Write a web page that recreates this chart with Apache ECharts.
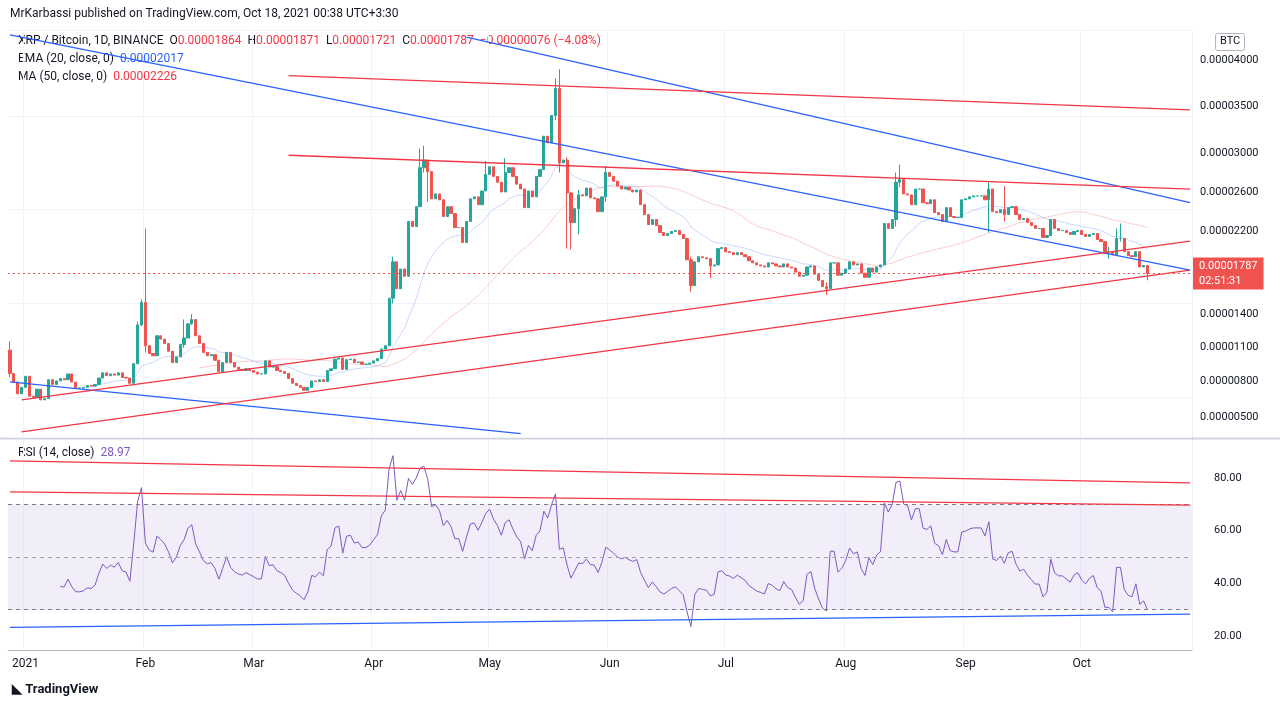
<!DOCTYPE html>
<html>
<head>
<meta charset="utf-8">
<script src="https://cdn.jsdelivr.net/npm/echarts@6/dist/echarts.min.js"></script>
<style>
html,body{margin:0;padding:0;background:#fff;}
#chart{width:1280px;height:709px;}
</style>
</head>
<body>
<div id="chart"></div>
<script>
// prices in units of 0.00000001 BTC, daily from 2020-12-28
var startDate = '2020-12-28';
var dayCount = 306;
var firstOpen = 1070;
var closes = [
 863,790,690,745,840,670,660,730,640,650,
 810,770,800,820,810,860,790,740,740,745,
 760,755,770,825,870,845,860,850,870,830,
 825,780,950,1300,1510,1110,1040,1020,1200,1170,
 1130,1060,960,1010,1120,1180,1310,1350,1200,1130,
 1050,1020,1030,980,880,960,1050,960,920,900,
 890,905,890,875,860,860,975,920,925,890,
 880,865,820,780,760,745,720,745,800,795,
 810,795,890,905,990,1000,900,985,990,960,
 965,945,945,955,975,995,1080,1110,1550,1900,
 1640,1830,1760,2300,2250,2450,2850,2930,2810,2530,
 2580,2520,2350,2450,2380,2240,2240,2090,2300,2530,
 2550,2470,2610,2780,2860,2760,2700,2600,2800,2850,
 2760,2680,2630,2440,2610,2550,2760,2830,3180,3110,
 3400,3690,2900,2930,2590,2290,2430,2570,2560,2640,
 2540,2530,2400,2550,2800,2760,2710,2660,2630,2650,
 2620,2600,2620,2470,2370,2270,2320,2260,2190,2160,
 2180,2200,2210,2170,2130,1920,1670,1900,1950,1940,
 1930,1860,1870,2030,2040,2000,1990,1970,1990,1970,
 1950,1910,1890,1870,1860,1850,1890,1880,
 1860,1850,1880,1850,1840,1800,1760,1770,1850,1860,
 1780,1720,1660,1640,1890,1890,1770,1790,1830,1900,
 1870,1880,1790,1750,1840,1800,1850,1870,2280,2230,
 2320,2700,2730,2580,2570,2470,2630,2630,2490,2480,
 2520,2390,2370,2300,2440,2350,2340,2340,2520,2530,
 2550,2560,2560,2560,2520,2630,2400,2390,2420,2370,
 2440,2450,2370,2320,2330,2290,2260,2230,2230,2140,
 2160,2320,2230,2210,2210,2190,2170,2200,2210,2170,
 2150,2170,2180,2120,2100,2000,2000,1970,2130,2130,
 2000,1960,1950,2000,1850,1864,1787
];
// notable wicks: [index, high, low]
var wicks = [
 [0,1150,830],[33,1330,950],[34,1540,1290],[35,2230,1050],[45,1350,1090],[47,1400,1300],
 [99,1950,1500],[106,3050,2450],[107,3080,2800],[108,2920,2500],[123,2920,2700],
 [128,2950,2600],[141,3800,3350],[142,3900,2800],[144,2960,2030],[145,2600,2020],
 [147,2620,2170],[154,2870,2500],[176,1950,1610],[181,1940,1740],[211,1700,1580],
 [229,2800,2250],[230,2880,2650],[253,2700,2190],[257,2660,2300],[284,2050,1930],
 [286,2230,1980],[287,2280,2100],[294,1871,1721]
];
var priceTicks = [500,800,1100,1400,2200,2600,3000,3500,4000];
var rsiTicks = [20,40,60,80];
// trend lines: [idx1, value1, idx2, value2, colour]
var priceLines = [
 [0,4275,304.6,1820,'#2962ff'],
 [118,4250,304.6,2490,'#2962ff'],
 [0,791,132,370,'#2962ff'],
 [71.6,3830,304.6,3460,'#f23645'],
 [71.6,2980,304.6,2630,'#f23645'],
 [3.1,639,304.6,2105,'#f23645'],
 [3.1,383,304.6,1820,'#f23645']
];
var rsiLines = [
 [0,86.5,304.6,78.1,'#f23645'],
 [0,74.7,304.6,69.7,'#f23645'],
 [0,23.3,304.6,28.3,'#2962ff']
];
var lastPrice = 1787;

var P = 0.85;
function T(v){ return Math.pow(v/100, P); }
function fmtPrice(t){ return (Math.pow(t, 1/P)/1e6).toFixed(8); }

var dates = [];
var d0 = new Date(startDate + 'T00:00:00Z');
for (var i = 0; i < dayCount; i++) {
    var d = new Date(d0.getTime() + i*86400000);
    dates.push(d.toISOString().slice(0,10));
}
var monthNames = ['2021','Feb','Mar','Apr','May','Jun','Jul','Aug','Sep','Oct','Nov','Dec'];
function isMonthStart(idx){ return dates[idx].slice(8) === '01' && dates[idx].slice(0,4) === '2021'; }

var wickMap = {};
wicks.forEach(function(w){ wickMap[w[0]] = w; });
var candles = [];
for (var i = 0; i < closes.length; i++) {
    var o = i === 0 ? firstOpen : closes[i-1];
    var c = closes[i];
    var h = Math.max(o,c), l = Math.min(o,c);
    if (wickMap[i]) { h = Math.max(h, wickMap[i][1]); l = Math.min(l, wickMap[i][2]); }
    candles.push([T(o), T(c), T(l), T(h)]);
}

// indicators from closes
var ema = [], ma = [], rsi = [];
var k = 2/21, e = null;
for (var i = 0; i < closes.length; i++) {
    if (i === 19) { var s = 0; for (var j = 0; j < 20; j++) s += closes[j]; e = s/20; }
    else if (i > 19) e = closes[i]*k + e*(1-k);
    ema.push(e === null ? null : T(e));
    if (i >= 49) { var s2 = 0; for (var j = i-49; j <= i; j++) s2 += closes[j]; ma.push(T(s2/50)); } else ma.push(null);
}
var ag = 0, al = 0;
for (var i = 0; i < closes.length; i++) {
    var prev = i === 0 ? firstOpen : closes[i-1];
    var ch = closes[i] - prev, g = Math.max(ch,0), ls = Math.max(-ch,0);
    if (i < 14) { ag += g/14; al += ls/14; rsi.push(i === 13 ? 100 - 100/(1+ag/al) : null); }
    else { ag = (ag*13+g)/14; al = (al*13+ls)/14; rsi.push(100 - 100/(1+ag/al)); }
}

function lineData(list, tf){
    return list.map(function(l){
        return [{coord:[l[0], tf(l[1])], lineStyle:{color:l[4], width:1.3, type:'solid'}},
                {coord:[l[2], tf(l[3])]}];
    });
}

var gridColor = '#f0f3fa';
var monthSplit = {show:true, interval:function(i){ return isMonthStart(i); }, lineStyle:{color:gridColor}};

var chart = echarts.init(document.getElementById('chart'));
chart.setOption({
    animation:false,
    textStyle:{fontFamily:'Roboto, "DejaVu Sans", sans-serif'},
    grid:[
        {left:8, right:88, top:30, height:407},
        {left:8, right:88, top:440, height:210}
    ],
    xAxis:[
        {type:'category', gridIndex:0, data:dates, boundaryGap:true,
         axisLine:{show:false}, axisTick:{show:false}, axisLabel:{show:false}, splitLine:monthSplit},
        {type:'category', gridIndex:1, data:dates, boundaryGap:true,
         axisLine:{show:true, lineStyle:{color:'#b2b5be'}}, axisTick:{show:false},
         axisLabel:{interval:function(i){ return isMonthStart(i); },
                    formatter:function(v){ return monthNames[parseInt(v.slice(5,7),10)-1]; },
                    color:'#131722', fontSize:12, margin:8},
         splitLine:monthSplit}
    ],
    yAxis:[
        {type:'value', gridIndex:0, position:'right', min:2.86, max:24.6,
         axisLine:{show:false}, axisTick:{show:false},
         axisLabel:{customValues:priceTicks.map(T), formatter:fmtPrice, color:'#131722', fontSize:11, margin:8},
         splitLine:{show:true, lineStyle:{color:gridColor}}},
        {type:'value', gridIndex:1, position:'right', min:14.7, max:94.4,
         axisLine:{show:false}, axisTick:{show:false},
         axisLabel:{customValues:rsiTicks, formatter:function(v){ return v.toFixed(2); }, color:'#131722', fontSize:11, margin:22},
         splitLine:{show:false}}
    ],
    series:[
        {type:'line', xAxisIndex:0, yAxisIndex:0, data:ma, symbol:'none', z:1,
         lineStyle:{color:'rgba(242,54,69,0.25)', width:1}},
        {type:'line', xAxisIndex:0, yAxisIndex:0, data:ema, symbol:'none', z:1,
         lineStyle:{color:'rgba(41,98,255,0.25)', width:1}},
        {type:'candlestick', xAxisIndex:0, yAxisIndex:0, data:candles, barWidth:'70%', z:3,
         itemStyle:{color:'#26a69a', color0:'#ef5350', borderColor:'#26a69a', borderColor0:'#ef5350'},
         markLine:{silent:true, symbol:'none', label:{show:false}, animation:false,
            data:lineData(priceLines, T).concat([{yAxis:T(lastPrice),
                lineStyle:{color:'#ef5350', type:[2,3], width:1},
                label:{show:true, position:'end', distance:1, formatter:'0.00001787\n02:51:31',
                       backgroundColor:'#ef5350', color:'#fff', fontSize:11, lineHeight:15, padding:[1,6,1,6]}}])}},
        {type:'line', xAxisIndex:1, yAxisIndex:1, data:rsi, symbol:'none', z:3,
         lineStyle:{color:'#7e57c2', width:1},
         markArea:{silent:true, itemStyle:{color:'rgba(126,87,194,0.1)'}, data:[[{yAxis:30},{yAxis:70}]]},
         markLine:{silent:true, symbol:'none', label:{show:false},
            data:[{yAxis:70, lineStyle:{color:'#787b86', type:[4,4], width:1}},
                  {yAxis:50, lineStyle:{color:'#a0a3ab', type:[4,4], width:1}},
                  {yAxis:30, lineStyle:{color:'#787b86', type:[4,4], width:1}}]
                  .concat(lineData(rsiLines, function(v){return v;}))}}
    ],
    graphic:[
        {type:'text', left:10, top:8, style:{text:'MrKarbassi published on TradingView.com, Oct 18, 2021 00:38 UTC+3:30', fill:'#131722', font:'12px Roboto'}},
        {type:'text', left:18, top:35, style:{
            text:'{k|XRP / Bitcoin, 1D, BINANCE  O}{r|0.00001864}{k|  H}{r|0.00001871}{k|  L}{r|0.00001721}{k|  C}{r|0.00001787  −0.00000076 (−4.08%)}',
            rich:{k:{fill:'#131722', font:'12px Roboto'}, r:{fill:'#f23645', font:'12px Roboto'}}}},
        {type:'text', left:18, top:53, style:{text:'{k|EMA (20, close, 0)  }{b|0.00002017}',
            rich:{k:{fill:'#131722', font:'12px Roboto'}, b:{fill:'#2962ff', font:'12px Roboto'}}}},
        {type:'text', left:18, top:71, style:{text:'{k|MA (50, close, 0)  }{r|0.00002226}',
            rich:{k:{fill:'#131722', font:'12px Roboto'}, r:{fill:'#f23645', font:'12px Roboto'}}}},
        {type:'text', left:18, top:447, style:{text:'{k|RSI (14, close)  }{p|28.97}',
            rich:{k:{fill:'#131722', font:'12px Roboto'}, p:{fill:'#7e57c2', font:'12px Roboto'}}}},
        {type:'rect', left:1215, top:33, shape:{width:29, height:17, r:2}, style:{fill:'#fff', stroke:'#b2b5be'}},
        {type:'text', left:1220, top:36, style:{text:'BTC', fill:'#131722', font:'11px Roboto'}},
        {type:'line', shape:{x1:1192.5, y1:30, x2:1192.5, y2:650}, style:{stroke:'#d1d4dc', lineWidth:1}},
        {type:'line', shape:{x1:0, y1:438.5, x2:1280, y2:438.5}, style:{stroke:'#d1d4dc', lineWidth:2}},
        {type:'text', left:12, top:683, style:{text:'\u25e3 TradingView', fill:'#131722', font:'bold 13px Roboto'}}
    ]
});
</script>
</body>
</html>
